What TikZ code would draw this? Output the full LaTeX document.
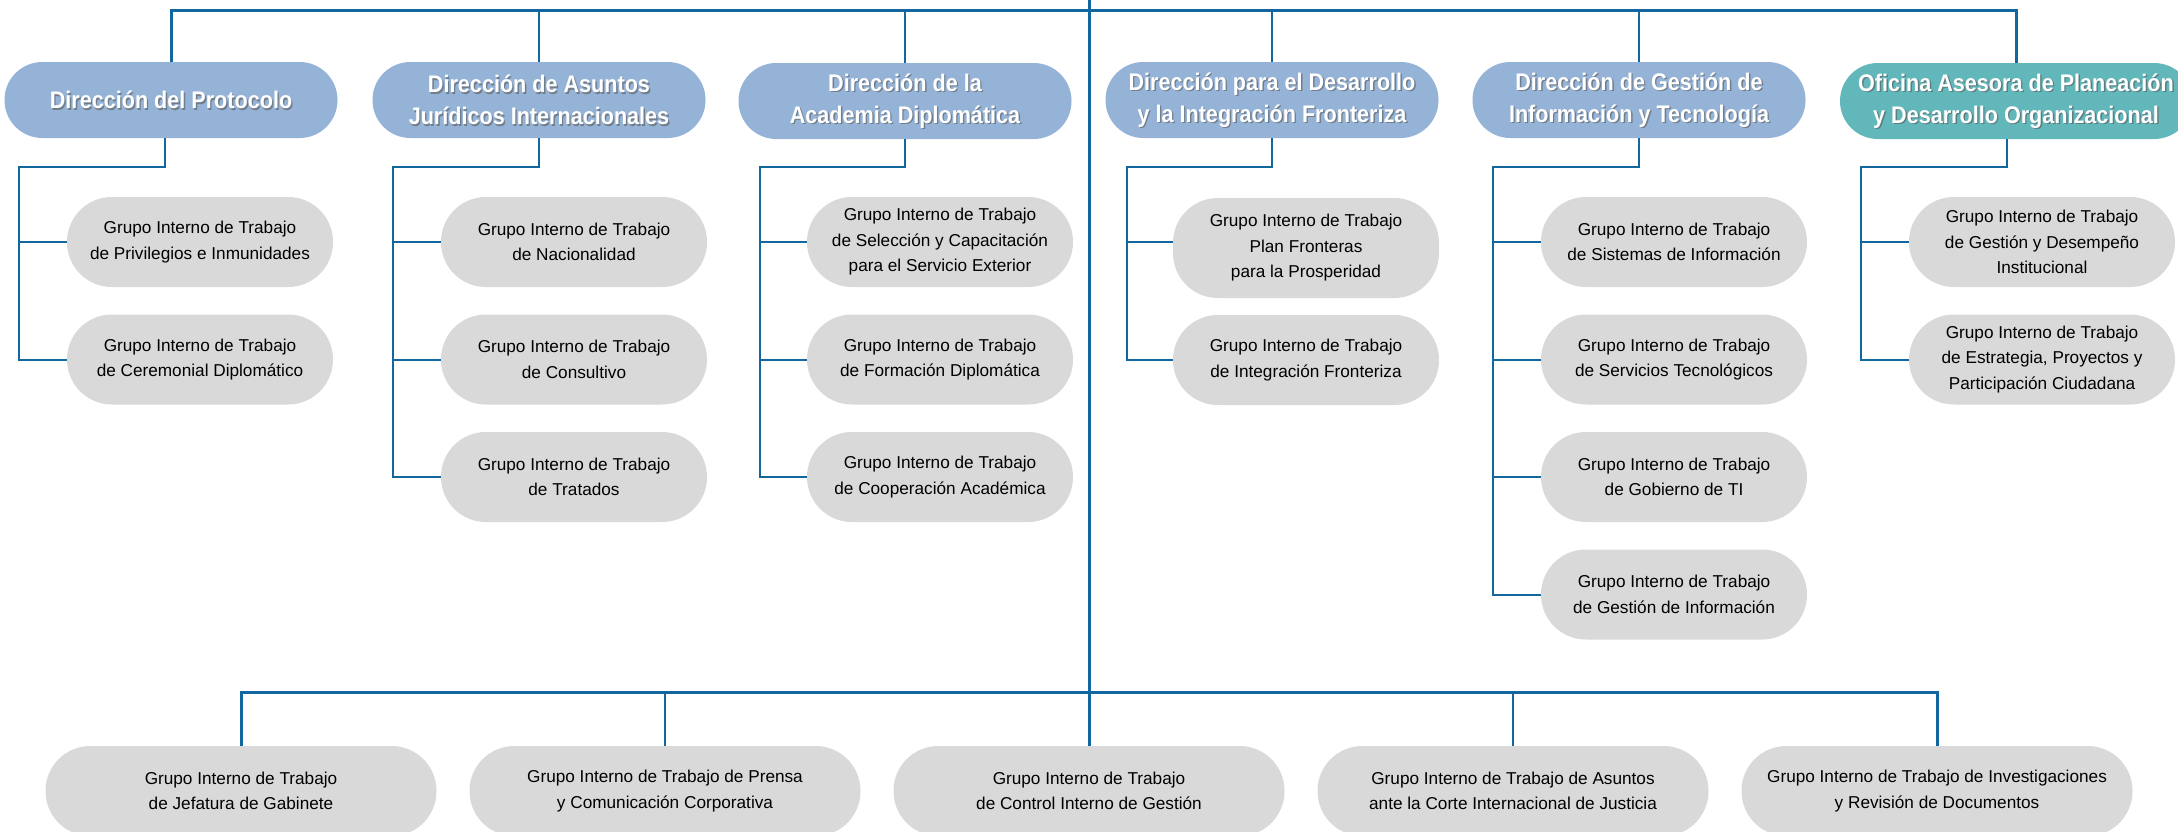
\documentclass[tikz,border=0pt]{standalone}
\usepackage{fontspec}
\setmainfont{Liberation Sans}
\newfontfamily\titlefont{Liberation Sans}[FakeStretch=0.9]
\usepackage{tikz}
\usetikzlibrary{positioning}
\definecolor{linea}{RGB}{18,104,158}
\definecolor{azul}{RGB}{149,179,215}
\definecolor{verde}{RGB}{98,183,187}
\definecolor{gris}{RGB}{217,217,217}
\tikzset{
    direccion/.style={
           rectangle,
           rounded corners=18.9pt,
           fill=azul,
           minimum width=166.5pt,
           minimum height=38pt,
           inner sep=0pt,
           },
    titulo/.style={
           text=white,
           font=\titlefont\bfseries\fontsize{12}{16}\selectfont,
           align=center,
           inner sep=0pt,
           },
    sombra/.style={titulo, text=black!65, opacity=0.6},
    grupo/.style={
           rectangle,
           rounded corners=22.4pt,
           fill=gris,
           minimum width=133pt,
           minimum height=45pt,
           inner sep=0pt,
           align=center,
           font=\fontsize{8.6}{12.75}\selectfont,
           },
    rama/.style={draw=linea, line width=1pt},
    tronco/.style={draw=linea, line width=1.5pt},
}
% name, position, extra options, text
\newcommand{\nododir}[4]{%
    \node[direccion, #3] (#1) at (#2) {};
    \node[sombra] at ([shift={(0.7pt,-0.7pt)}]#1) {#4};
    \node[titulo] at (#1) {#4};
}
\begin{document}
\begin{tikzpicture}[x=0.5pt, y=0.5pt]
    \useasboundingbox (0,0) rectangle (2178,-831);

    % Direcciones (top row)
    \nododir{d1}{171,-100}{}{Dirección del Protocolo}
    \nododir{d2}{539,-100}{}{Dirección de Asuntos\\Jurídicos Internacionales}
    \nododir{d3}{905,-101}{}{Dirección de la\\Academia Diplomática}
    \nododir{d4}{1272,-100}{}{Dirección para el Desarrollo\\y la Integración Fronteriza}
    \nododir{d5}{1639,-100}{}{Dirección de Gestión de\\Información y Tecnología}
    \nododir{d6}{2016,-101}{fill=verde, minimum width=176pt}{Oficina Asesora de Planeación\\y Desarrollo Organizacional}

    % Grupos under each direccion
    \node[grupo] (c11) at (200,-242) {Grupo Interno de Trabajo\\de Privilegios e Inmunidades};
    \node[grupo, below of=c11, node distance=58.75pt] (c12) {Grupo Interno de Trabajo\\de Ceremonial Diplomático};

    \node[grupo] (c21) at (574,-242) {Grupo Interno de Trabajo\\de Nacionalidad};
    \node[grupo, below of=c21, node distance=58.75pt] (c22) {Grupo Interno de Trabajo\\de Consultivo};
    \node[grupo, below of=c22, node distance=58.75pt] (c23) {Grupo Interno de Trabajo\\de Tratados};

    \node[grupo] (c31) at (940,-242) {Grupo Interno de Trabajo\\de Selección y Capacitación\\para el Servicio Exterior};
    \node[grupo, below of=c31, node distance=58.75pt] (c32) {Grupo Interno de Trabajo\\de Formación Diplomática};
    \node[grupo, below of=c32, node distance=58.75pt] (c33) {Grupo Interno de Trabajo\\de Cooperación Académica};

    \node[grupo, minimum height=50pt] (c41) at (1306,-248) {Grupo Interno de Trabajo\\Plan Fronteras\\para la Prosperidad};
    \node[grupo] (c42) at (1306,-360) {Grupo Interno de Trabajo\\de Integración Fronteriza};

    \node[grupo] (c51) at (1674,-242) {Grupo Interno de Trabajo\\de Sistemas de Información};
    \node[grupo, below of=c51, node distance=58.75pt] (c52) {Grupo Interno de Trabajo\\de Servicios Tecnológicos};
    \node[grupo, below of=c52, node distance=58.75pt] (c53) {Grupo Interno de Trabajo\\de Gobierno de TI};
    \node[grupo, below of=c53, node distance=58.75pt] (c54) {Grupo Interno de Trabajo\\de Gestión de Información};

    \node[grupo] (c61) at (2042,-242) {Grupo Interno de Trabajo\\de Gestión y Desempeño\\Institucional};
    \node[grupo, below of=c61, node distance=58.75pt] (c62) {Grupo Interno de Trabajo\\de Estrategia, Proyectos y\\Participación Ciudadana};

    % Grupos hanging from the trunk (bottom row)
    \node[grupo, minimum width=195.5pt] (b1) at (241,-791) {Grupo Interno de Trabajo\\de Jefatura de Gabinete};
    \node[grupo, minimum width=195.5pt, right of=b1, node distance=212pt] (b2) {Grupo Interno de Trabajo de Prensa\\y Comunicación Corporativa};
    \node[grupo, minimum width=195.5pt, right of=b2, node distance=212pt] (b3) {Grupo Interno de Trabajo\\de Control Interno de Gestión};
    \node[grupo, minimum width=195.5pt, right of=b3, node distance=212pt] (b4) {Grupo Interno de Trabajo de Asuntos\\ante la Corte Internacional de Justicia};
    \node[grupo, minimum width=195.5pt, right of=b4, node distance=212pt] (b5) {Grupo Interno de Trabajo de Investigaciones\\y Revisión de Documentos};

    % bars and trunk
    \coordinate (arriba) at (1089,0);
    \coordinate (barra) at (0,-10);
    \coordinate (barra2) at (0,-692);
    \draw[tronco] (arriba) -- (b3.north);
    \draw[tronco] (d1.north) |- (d6.north |- barra) -- (d6.north);
    \foreach \d in {d2,d3,d4,d5}
        \draw[rama] (\d.north) -- (\d.north |- barra);
    \draw[tronco] (b1.north) |- (b5.north |- barra2) -- (b5.north);
    \foreach \b in {b2,b4}
        \draw[rama] (\b.north) -- (\b.north |- barra2);

    % elbows down to the grupos
    \coordinate (v1) at (19,-167);
    \coordinate (v2) at (393,-167);
    \coordinate (v3) at (760,-167);
    \coordinate (v4) at (1127,-167);
    \coordinate (v5) at (1493,-167);
    \coordinate (v6) at (1861,-167);

    \draw[rama] ([xshift=-3pt]d1.south) |- (v1) |- (c12.west);
    \draw[rama] (c11.west) -- (c11.west -| v1);

    \draw[rama] (d2.south) |- (v2) |- (c23.west);
    \foreach \c in {c21,c22}
        \draw[rama] (\c.west) -- (\c.west -| v2);

    \draw[rama] (d3.south) |- (v3) |- (c33.west);
    \foreach \c in {c31,c32}
        \draw[rama] (\c.west) -- (\c.west -| v3);

    \draw[rama] (d4.south) |- (v4) |- (c42.west);
    \draw[rama] ([yshift=3pt]c41.west) -- ([yshift=3pt]c41.west -| v4);

    \draw[rama] (d5.south) |- (v5) |- (c54.west);
    \foreach \c in {c51,c52,c53}
        \draw[rama] (\c.west) -- (\c.west -| v5);

    \draw[rama] ([xshift=-4.5pt]d6.south) |- (v6) |- (c62.west);
    \draw[rama] (c61.west) -- (c61.west -| v6);
\end{tikzpicture}
\end{document}
